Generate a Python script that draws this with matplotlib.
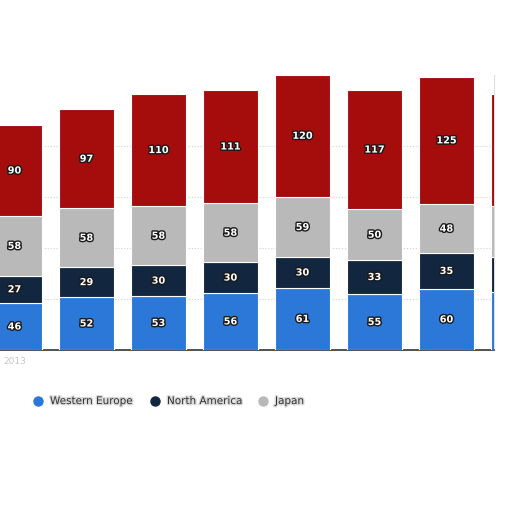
import matplotlib.pyplot as plt
import matplotlib.patheffects as pe
from matplotlib.lines import Line2D
import numpy as np

# values (last bar is cut off at the right edge)
years = ['2013', '', '', '', '', '', '', '']
western_europe = [46, 52, 53, 56, 61, 55, 60, 57]
north_america = [27, 29, 30, 30, 30, 33, 35, 34]
japan = [58, 58, 58, 58, 59, 50, 48, 50]
other = [90, 97, 110, 111, 120, 117, 125, 110]

series = [western_europe, north_america, japan, other]
colors = ['#2b78d8', '#12263f', '#b9b9b9', '#a50c0c']
legend_names = ['Western Europe', 'North America', 'Japan']

fig = plt.figure(figsize=(5.12, 5.12), dpi=100)
ax = fig.add_axes([0, 162 / 512, 494 / 512, 280 / 512])

x = np.arange(len(years))
ax.set_xticks(x)
ax.set_xticklabels(years, color='#c8c8c8', fontsize=6.5)
ax.tick_params(axis='x', length=0, pad=5)
ax.set_yticks([])
xmin, xmax = -0.201, 6.66
ax.set_xlim(xmin, xmax)
ax.set_ylim(0, 274.5)

bottom = np.zeros(len(years))
outline = [pe.withStroke(linewidth=2, foreground='#1a1a1a')]
for vals, col in zip(series, colors):
    vals = np.array(vals, dtype=float)
    ax.bar(x, vals, 0.764, bottom=bottom, color=col, edgecolor='white',
           linewidth=0.8, zorder=3)
    for xi, b, v in zip(x, bottom, vals):
        if xi > xmax:
            continue  # label would be outside the cropped area
        ax.text(xi, b + v / 2, str(int(v)), ha='center', va='center',
                color='white', fontsize=7, fontweight='bold', zorder=4,
                path_effects=outline, clip_on=True)
    bottom += vals

# dotted grid lines
for g in [50, 100, 150, 200]:
    ax.axhline(g, color='#d0d0d0', linestyle=':', linewidth=0.8, zorder=1)

for s in ['top', 'left']:
    ax.spines[s].set_visible(False)
ax.spines['right'].set_color('#dddddd')
ax.spines['right'].set_bounds(0, 270)
ax.spines['bottom'].set_color('#333333')
ax.spines['bottom'].set_linewidth(1.2)

# legend drawn by hand
marker_x = [38, 155, 263]
for mx, name, col in zip(marker_x, legend_names, colors):
    fig.add_artist(Line2D([mx / 512], [1 - 401 / 512], marker='o',
                          markersize=6.5, color=col, linestyle='none',
                          transform=fig.transFigure))
    fig.text((mx + 12) / 512, 1 - 401 / 512, name, fontsize=7.5,
             color='#333333', va='center', ha='left',
             path_effects=[pe.withStroke(linewidth=2, foreground='#d8d8d8')])

plt.savefig('out.png', dpi=100)
